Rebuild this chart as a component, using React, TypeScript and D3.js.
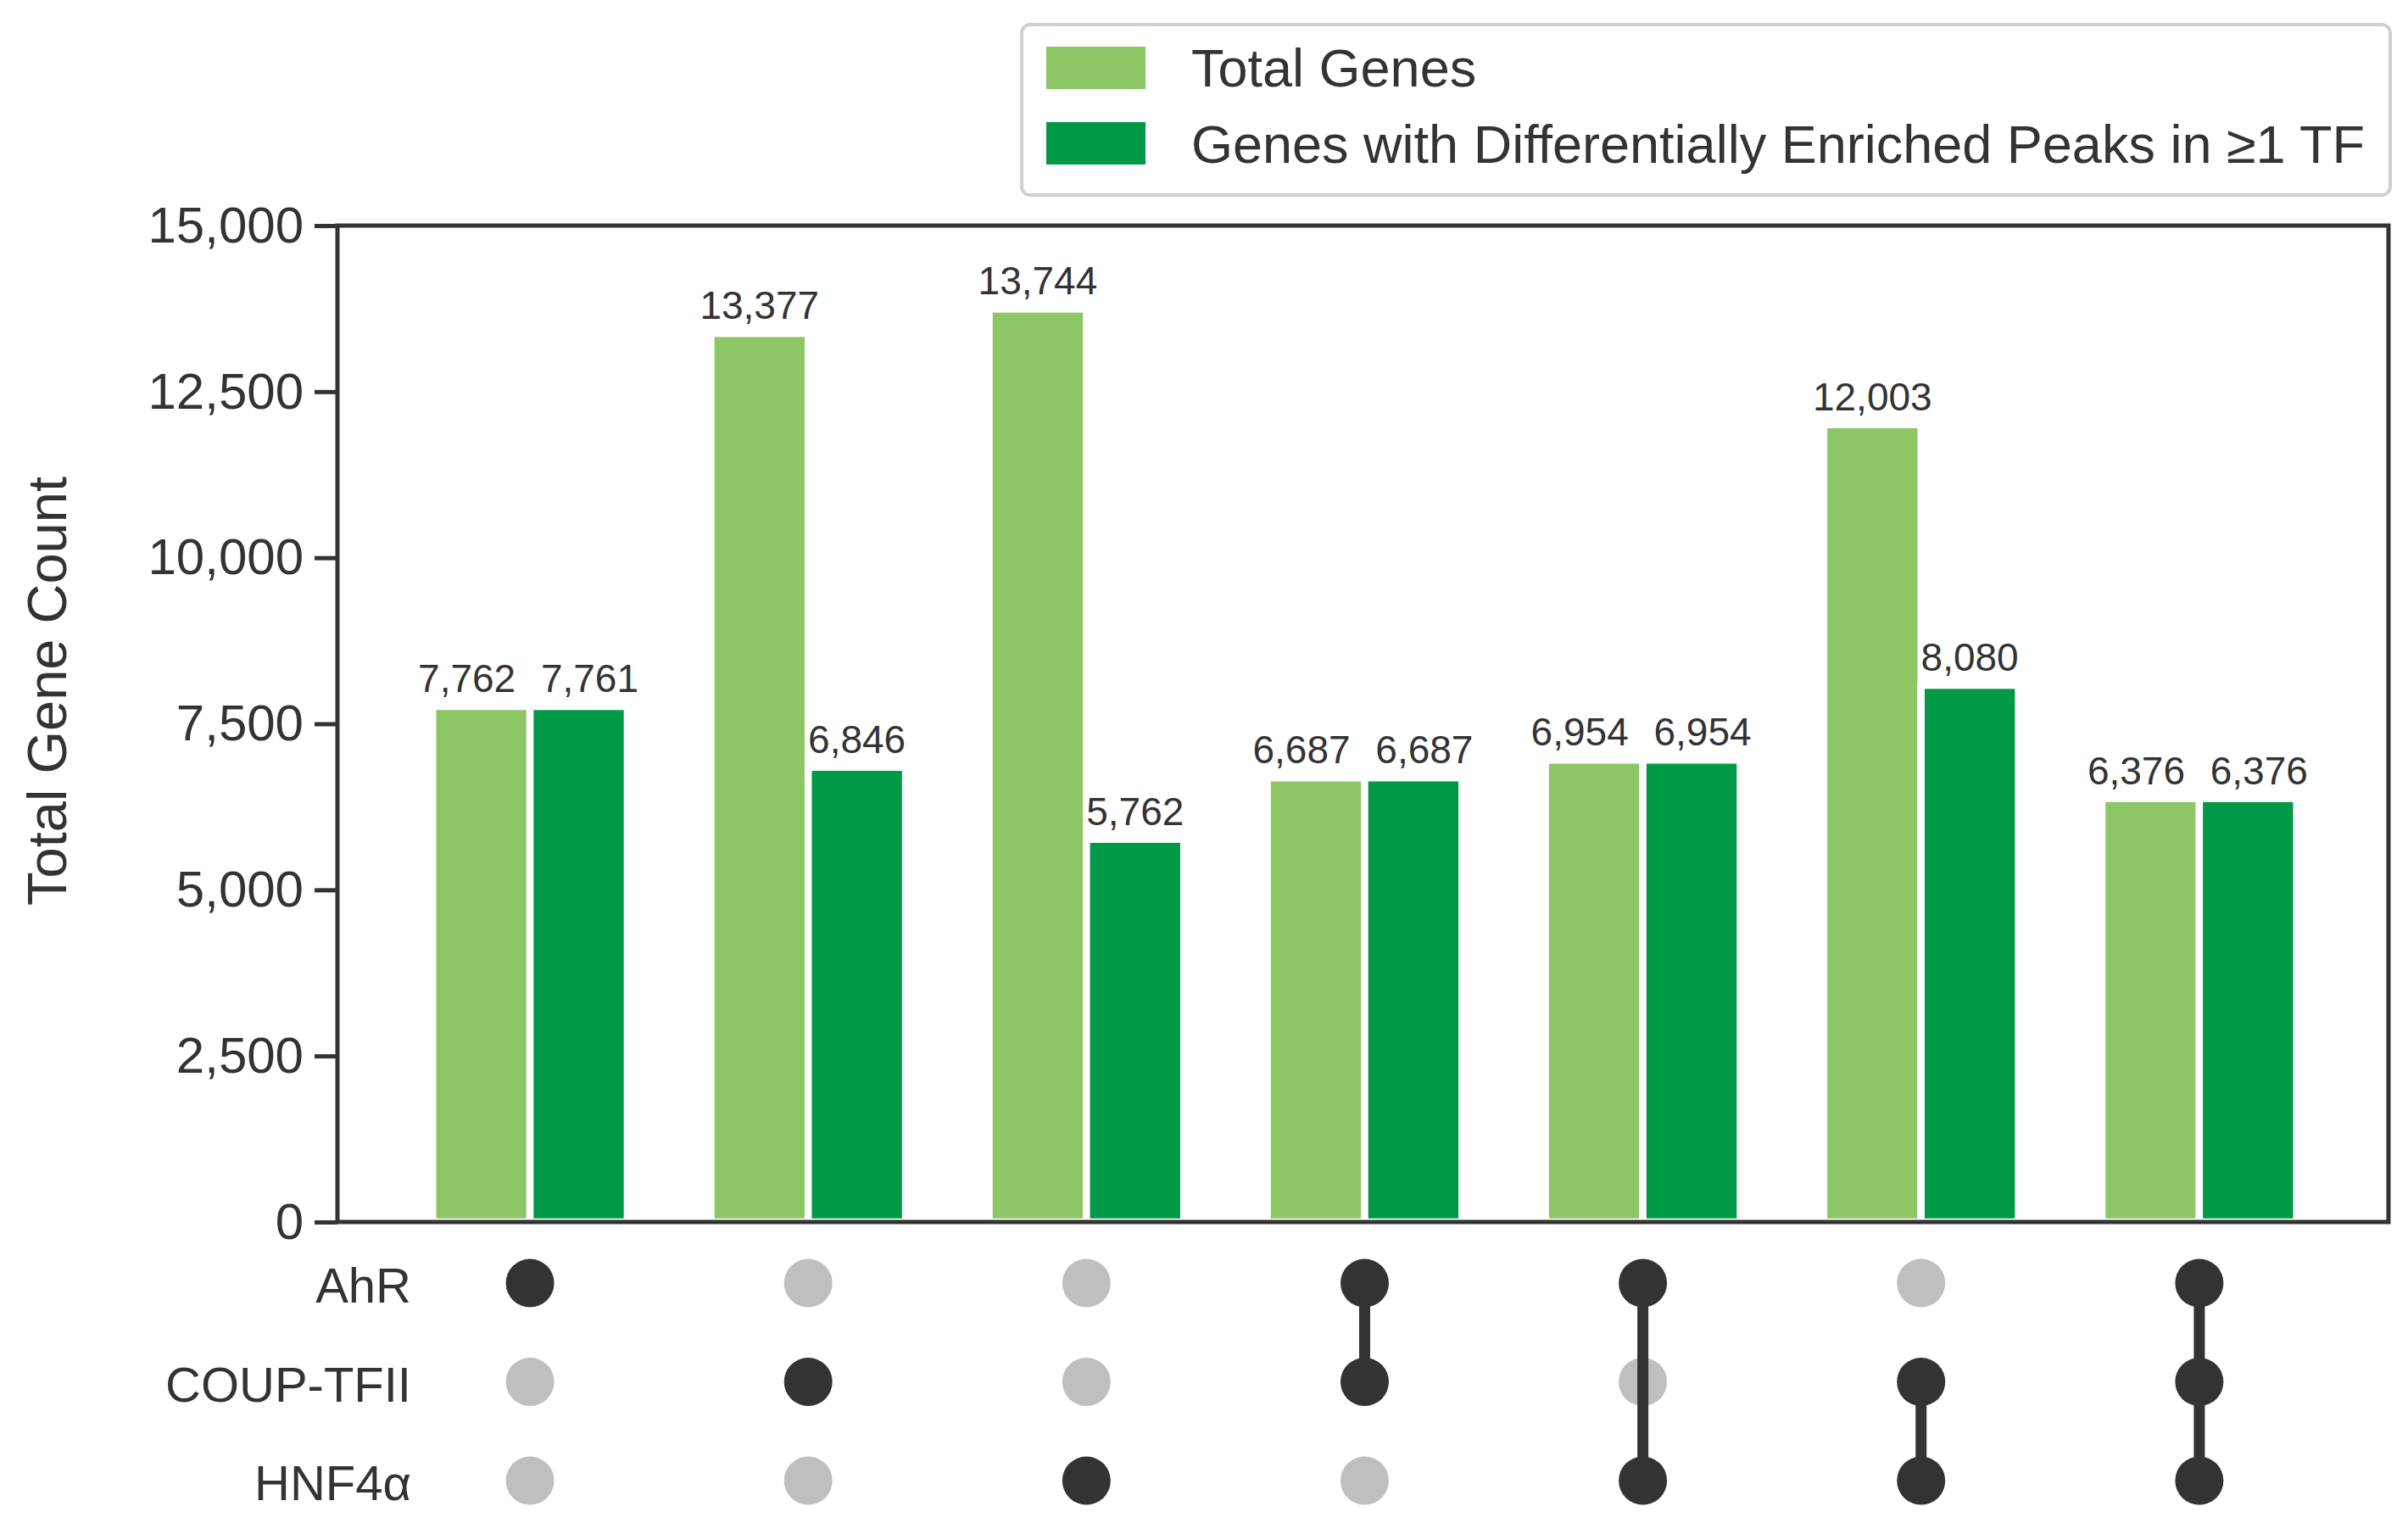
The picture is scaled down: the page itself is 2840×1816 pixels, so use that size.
import * as d3 from 'd3';
import React, { useEffect, useRef } from 'react';

// values
const tfNames = ['AhR', 'COUP-TFII', 'HNF4α'];
const totalGenes = [7762, 13377, 13744, 6687, 6954, 12003, 6376];
const enrichedGenes = [7761, 6846, 5762, 6687, 6954, 8080, 6376];
const membership = [
  [1, 0, 0],
  [0, 1, 0],
  [0, 0, 1],
  [1, 1, 0],
  [1, 0, 1],
  [0, 1, 1],
  [1, 1, 1],
];
const yTicks = [0, 2500, 5000, 7500, 10000, 12500, 15000];
const seriesNames = ['Total Genes', 'Genes with Differentially Enriched Peaks in ≥1 TF'];
const seriesColors = ['#8cc665', '#009947'];

const FONT = '"Liberation Sans", Arial, Helvetica, sans-serif';
const INK = '#333333';

const App = () => {
  const ref = useRef<SVGSVGElement | null>(null);

  useEffect(() => {
    if (!ref.current) return;
    const svg = d3.select(ref.current);
    svg.selectAll('*').remove();

    const W = 2840;
    const H = 1816;
    const plot = { left: 398, right: 2817, top: 266, bottom: 1441 };

    svg.append('rect').attr('width', W).attr('height', H).attr('fill', '#ffffff');

    const x = d3.scaleLinear().domain([-0.692, 6.68]).range([plot.left, plot.right]);
    const y = d3.scaleLinear().domain([0, 15000]).range([plot.bottom, plot.top]);
    const barW = x(0.35) - x(0);

    // bars
    const series = [totalGenes, enrichedGenes];
    series.forEach((vals, s) => {
      const off = s === 0 ? -0.175 : 0.175;
      svg.append('g')
        .selectAll('rect')
        .data(vals)
        .enter().append('rect')
        .attr('x', (d, i) => x(i + off) - barW / 2)
        .attr('y', (d) => y(d))
        .attr('width', barW)
        .attr('height', (d) => y(0) - y(d))
        .attr('fill', seriesColors[s])
        .attr('stroke', '#ffffff')
        .attr('stroke-width', 8.5);
    });

    // value labels, nudged apart when the pair is level
    const fmt = d3.format(',');
    series.forEach((vals, s) => {
      const off = s === 0 ? -0.175 : 0.175;
      svg.append('g')
        .selectAll('text')
        .data(vals)
        .enter().append('text')
        .attr('x', (d, i) => {
          const level = Math.abs(totalGenes[i] - enrichedGenes[i]) < 600;
          const nudge = level ? (s === 0 ? -17 : 13) : 0;
          return x(i + off) + nudge;
        })
        .attr('y', (d) => y(d) - 17)
        .attr('text-anchor', 'middle')
        .attr('font-family', FONT)
        .attr('font-size', 46)
        .attr('fill', INK)
        .text((d) => fmt(d));
    });

    // frame
    svg.append('rect')
      .attr('x', plot.left)
      .attr('y', plot.top)
      .attr('width', plot.right - plot.left)
      .attr('height', plot.bottom - plot.top)
      .attr('fill', 'none')
      .attr('stroke', INK)
      .attr('stroke-width', 5);

    // y axis
    const yAxis = svg.append('g')
      .attr('transform', `translate(${plot.left},0)`)
      .call(d3.axisLeft(y).tickValues(yTicks).tickSize(27).tickPadding(13).tickFormat((d) => fmt(d as number)));
    yAxis.select('.domain').remove();
    yAxis.selectAll('.tick line').attr('stroke', INK).attr('stroke-width', 5);
    yAxis.selectAll('.tick text')
      .attr('font-family', FONT)
      .attr('font-size', 60)
      .attr('fill', INK);

    svg.append('text')
      .attr('transform', 'translate(78,815) rotate(-90)')
      .attr('text-anchor', 'middle')
      .attr('font-family', FONT)
      .attr('font-size', 65)
      .attr('fill', INK)
      .text('Total Gene Count');

    // membership matrix
    const rowY = d3.scalePoint().domain(tfNames).range([1513, 1746]);
    const matrix = svg.append('g');
    membership.forEach((m, i) => {
      matrix.selectAll(null)
        .data(tfNames.filter((t, k) => !m[k]))
        .enter().append('circle')
        .attr('cx', x(i))
        .attr('cy', (t) => rowY(t))
        .attr('r', 28.5)
        .attr('fill', '#bfbfbf');
    });
    membership.forEach((m, i) => {
      const on = tfNames.filter((t, k) => m[k] === 1);
      if (on.length > 1) {
        matrix.append('line')
          .attr('x1', x(i)).attr('x2', x(i))
          .attr('y1', rowY(on[0])).attr('y2', rowY(on[on.length - 1]))
          .attr('stroke', INK)
          .attr('stroke-width', 13);
      }
      matrix.selectAll(null)
        .data(on)
        .enter().append('circle')
        .attr('cx', x(i))
        .attr('cy', (t) => rowY(t))
        .attr('r', 28.5)
        .attr('fill', INK);
    });

    svg.append('g')
      .selectAll('text')
      .data(tfNames)
      .enter().append('text')
      .attr('x', 485)
      .attr('y', (t) => rowY(t) + 23)
      .attr('text-anchor', 'end')
      .attr('font-family', FONT)
      .attr('font-size', 58)
      .attr('fill', INK)
      .text((t) => t);

    // legend
    const lg = svg.append('g');
    lg.append('rect')
      .attr('x', 1205).attr('y', 29)
      .attr('width', 1614).attr('height', 201)
      .attr('rx', 10)
      .attr('fill', '#ffffff')
      .attr('stroke', '#d0d0d0')
      .attr('stroke-width', 4);
    seriesNames.forEach((name, s) => {
      lg.append('rect')
        .attr('x', 1234).attr('y', 55 + s * 89)
        .attr('width', 117).attr('height', 50)
        .attr('fill', seriesColors[s]);
      lg.append('text')
        .attr('x', 1405).attr('y', 102 + s * 90)
        .attr('font-family', FONT)
        .attr('font-size', 63)
        .attr('fill', INK)
        .text(name);
    });
  }, []);

  return (
    <svg
      ref={ref}
      width={2840}
      height={1816}
      style={{ position: 'absolute', left: 0, top: 0, display: 'block' }}
    />
  );
};

export default App;
